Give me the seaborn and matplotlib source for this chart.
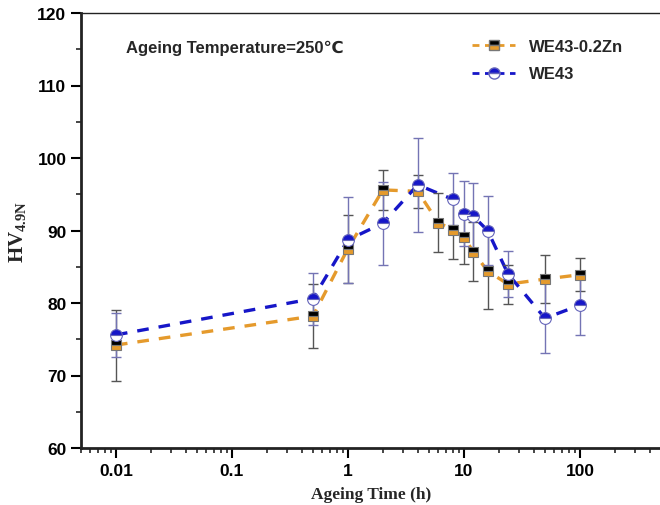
import numpy as np
import pandas as pd
import matplotlib
matplotlib.use('Agg')
import matplotlib.pyplot as plt
from matplotlib.lines import Line2D
from matplotlib.ticker import MultipleLocator, LogLocator, FixedFormatter, FixedLocator
import seaborn as sns

# ageing hardness data
time_zn = [0.01, 0.5, 1, 2, 4, 6, 8, 10, 12, 16, 24, 50, 100]
hv_zn = [74.2, 78.2, 87.5, 95.6, 95.4, 91.1, 90.1, 89.1, 87.1, 84.4, 82.6, 83.3, 83.9]
err_zn = [4.9, 4.4, 4.7, 2.8, 2.3, 4.1, 4.0, 3.7, 4.1, 5.2, 2.7, 3.3, 2.3]

time_we = [0.01, 0.5, 1, 2, 4, 8, 10, 12, 16, 24, 50, 100]
hv_we = [75.6, 80.6, 88.7, 91.0, 96.3, 94.3, 92.3, 92.0, 90.0, 84.0, 77.9, 79.7]
err_we = [3.0, 3.6, 5.9, 5.7, 6.5, 3.6, 4.5, 4.5, 4.8, 3.2, 4.8, 4.1]

labels = ['WE43-0.2Zn', 'WE43']
xticks = [0.01, 0.1, 1, 10, 100]
xticklabels = ['0.01', '0.1', '1', '10', '100']

orange = '#e59a2c'
blue = '#1616c8'

df = pd.concat([
    pd.DataFrame({'time': time_zn, 'hv': hv_zn, 'alloy': labels[0]}),
    pd.DataFrame({'time': time_we, 'hv': hv_we, 'alloy': labels[1]}),
])

sns.set_style('ticks')
plt.rcParams['font.family'] = ['Liberation Sans', 'DejaVu Sans']
plt.rcParams['font.weight'] = 'bold'

fig = plt.figure(figsize=(6.6, 5.06), dpi=100)
ax = fig.add_axes([81 / 660, 57 / 506, 580 / 660, 435 / 506])

sns.lineplot(data=df, x='time', y='hv', hue='alloy', palette=[orange, blue],
             linestyle='--', linewidth=2.4, dashes=False, legend=False, ax=ax,
             zorder=2)
for line in ax.get_lines():
    line.set_dashes((3.5, 3.0))

ax.errorbar(time_zn, hv_zn, yerr=err_zn, fmt='none', ecolor='#555555',
            elinewidth=1.0, capsize=3.5, capthick=1.0, zorder=3)
ax.errorbar(time_we, hv_we, yerr=err_we, fmt='none', ecolor='#7474b4',
            elinewidth=1.0, capsize=3.5, capthick=1.0, zorder=3)

ax.plot(time_zn, hv_zn, linestyle='none', marker='s', markersize=7,
        fillstyle='top', markerfacecolor='black', markerfacecoloralt=orange,
        markeredgecolor='#777777', markeredgewidth=0.8, zorder=4)
ax.plot(time_we, hv_we, linestyle='none', marker='o', markersize=8.5,
        fillstyle='top', markerfacecolor=blue, markerfacecoloralt='white',
        markeredgecolor='#6666bb', markeredgewidth=0.8, zorder=5)

ax.set_xscale('log')
ax.set_xlim(0.005, 500)
ax.set_ylim(60, 120)
ax.xaxis.set_major_locator(FixedLocator(xticks))
ax.xaxis.set_major_formatter(FixedFormatter(xticklabels))
ax.xaxis.set_minor_locator(LogLocator(base=10, subs=np.arange(2, 10)))
ax.yaxis.set_major_locator(MultipleLocator(10))
ax.yaxis.set_minor_locator(MultipleLocator(5))

ax.tick_params(which='major', direction='out', length=7, width=1.5,
               labelsize=12.5, colors='black')
ax.tick_params(which='minor', direction='out', length=3.5, width=1.2)
for lab in ax.get_xticklabels() + ax.get_yticklabels():
    lab.set_fontweight('bold')

for side in ['left', 'bottom']:
    ax.spines[side].set_linewidth(2.0)
ax.spines['top'].set_linewidth(1.0)
ax.spines['right'].set_visible(False)
for s in ax.spines.values():
    s.set_color('#222222')

ax.set_xlabel('Ageing Time (h)', fontsize=12.5, fontweight='bold',
              family='Liberation Serif', labelpad=6)
ax.set_ylabel('HV$_{\\mathregular{4.9N}}$', fontsize=15, fontweight='bold',
              family='Liberation Serif', labelpad=6)

ax.text(0.078, 0.92, 'Ageing Temperature=250℃', transform=ax.transAxes,
        fontsize=12, fontweight='bold', va='center', ha='left')

handles = [
    Line2D([], [], color=orange, linestyle='--', dashes=(2.5, 2), linewidth=2,
           marker='s', markersize=6.5, fillstyle='top', markerfacecolor='black',
           markerfacecoloralt=orange, markeredgecolor='#777777'),
    Line2D([], [], color=blue, linestyle='--', dashes=(2.5, 2), linewidth=2,
           marker='o', markersize=8, fillstyle='top', markerfacecolor=blue,
           markerfacecoloralt='white', markeredgecolor='#6666bb'),
]
ax.legend(handles, labels, loc='upper left', bbox_to_anchor=(0.648, 0.975),
          frameon=False, handlelength=2.6, labelspacing=0.75,
          prop={'weight': 'bold', 'size': 12})

fig.savefig('out.png', dpi=100)
